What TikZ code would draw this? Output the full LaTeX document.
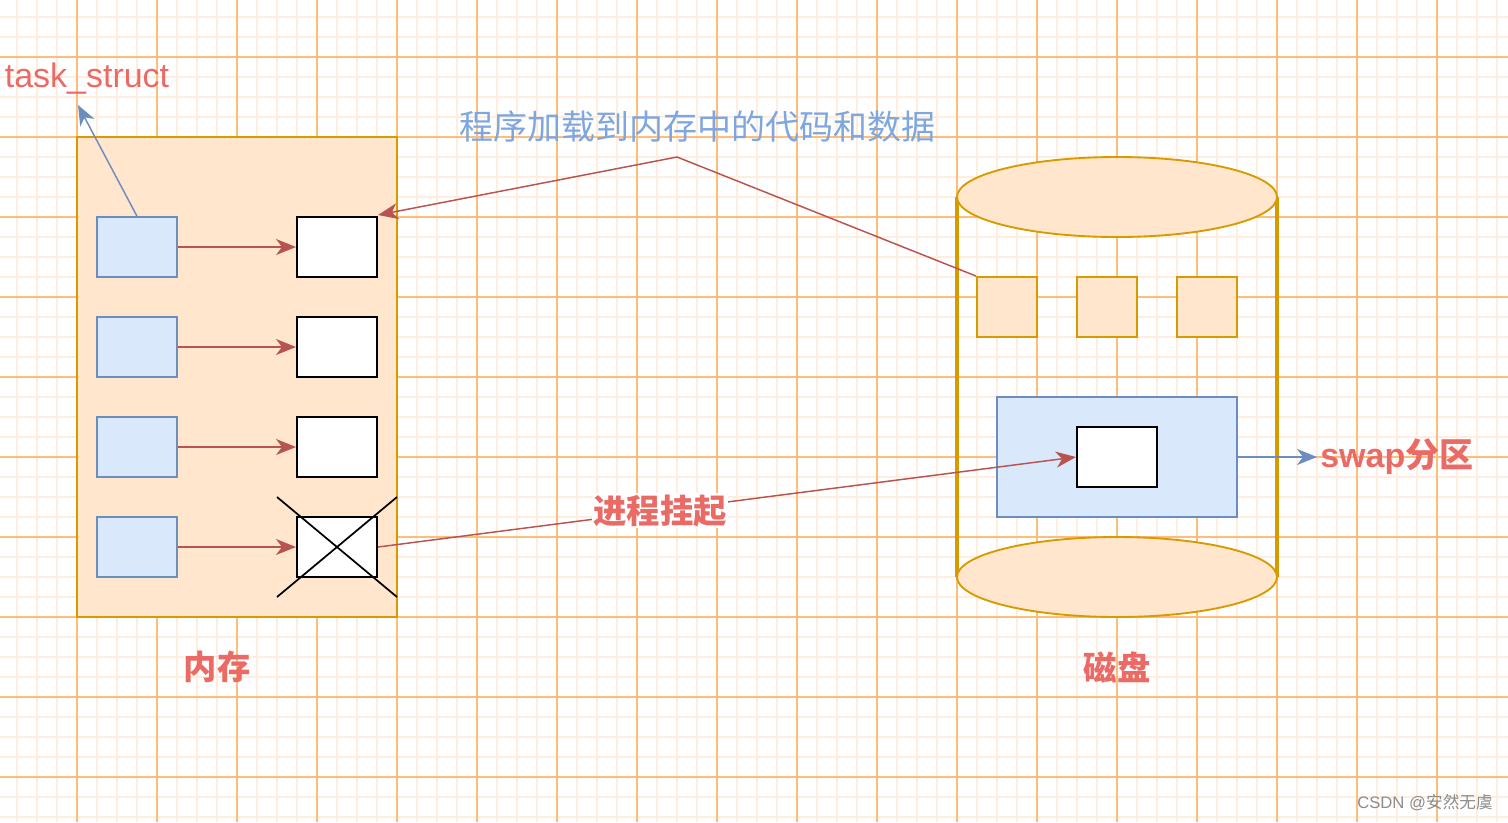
\documentclass[tikz,border=0pt]{standalone}
\usepackage{fontspec}
\setmainfont{Liberation Sans}
\newfontfamily\cjk{Noto Sans CJK SC}
\usetikzlibrary{arrows.meta,shapes.geometric}
\definecolor{memfill}{HTML}{FFE6CC}
\definecolor{memdraw}{HTML}{D79B00}
\definecolor{bluefill}{HTML}{DAE8FC}
\definecolor{bluedraw}{HTML}{6C8EBF}
\definecolor{redline}{HTML}{B85450}
\definecolor{redtext}{HTML}{EA6B66}
\definecolor{bluetext}{HTML}{7EA6E0}
\definecolor{gridmajor}{HTML}{FFBD7A}
\definecolor{gridminor}{HTML}{FFEEDD}
\tikzset{
  minorgrid/.style={gridminor,line width=0.9pt},
  majorgrid/.style={gridmajor,line width=0.8pt},
  membox/.style={draw=memdraw,fill=memfill,line width=1.4pt,rectangle,inner sep=0pt},
  bluebox/.style={draw=bluedraw,fill=bluefill,line width=1.2pt,rectangle,inner sep=0pt,minimum width=60pt,minimum height=45pt},
  whitebox/.style={draw=black,fill=white,line width=1.5pt,rectangle,inner sep=0pt,minimum width=60pt,minimum height=45pt},
  smallbox/.style={draw=memdraw,fill=memfill,line width=1.4pt,rectangle,inner sep=0pt,minimum width=45pt,minimum height=45pt},
  diskcap/.style={draw=memdraw,fill=memfill,line width=1.4pt,ellipse,inner sep=0pt,minimum width=240pt,minimum height=60pt},
  diskside/.style={draw=memdraw,line width=2.8pt},
  redarrow/.style={draw=redline,line width=1.1pt,-{Stealth[length=15pt,width=12pt,inset=4.5pt]}},
  bluearrow/.style={draw=bluedraw,line width=1.1pt,-{Stealth[length=15pt,width=12pt,inset=4.5pt]}},
  crossline/.style={draw=black,line width=1.3pt},
  bigred/.style={text=redtext,font=\cjk\bfseries\fontsize{25}{28}\selectfont,inner sep=1pt},
}
\begin{document}
\begin{tikzpicture}[x=0.75pt,y=-0.75pt]
\useasboundingbox (0,0) rectangle (1508,822);
\fill[white] (0,0) rectangle (1508,822);
% grid
\foreach \gx in {17,37,...,1508} {\draw[minorgrid] (\gx,0) -- (\gx,822);}
\foreach \gy in {17,37,...,822} {\draw[minorgrid] (0,\gy) -- (1508,\gy);}
\foreach \gx in {77,157,...,1508} {\draw[majorgrid] (\gx,0) -- (\gx,822);}
\foreach \gy in {57,137,...,822} {\draw[majorgrid] (0,\gy) -- (1508,\gy);}

% memory
\node[membox,minimum width=240pt,minimum height=360pt] (mem) at (237,377) {};
\foreach \i/\yy in {1/247,2/347,3/447,4/547} {
  \node[bluebox] (b\i) at (137,\yy) {};
  \node[whitebox] (w\i) at (337,\yy) {};
  \draw[redarrow] (b\i) -- (w\i);
}
\draw[crossline] (277,497) -- (397,597);
\draw[crossline] (277,597) -- (397,497);

% task_struct
\node[text=redtext,font=\fontsize{25.5}{28}\selectfont,inner sep=0pt] (ts) at (87,79) {task\_struct};
\coordinate (tstip) at (78,105);
\draw[bluearrow] (b1.north) -- (tstip);

% disk
\draw[diskside] (957,197) -- (957,577);
\draw[diskside] (1277,197) -- (1277,577);
\node[diskcap] (top) at (1117,197) {};
\node[diskcap] (bot) at (1117,577) {};
\node[smallbox] (s1) at (1007,307) {};
\node[smallbox] (s2) at (1107,307) {};
\node[smallbox] (s3) at (1207,307) {};
\node[bluebox,minimum width=180pt,minimum height=90pt] (swap) at (1117,457) {};
\node[whitebox] (sw) at (1117,457) {};

% load line
\node[text=bluetext,font=\cjk\fontsize{25.5}{28}\selectfont,inner sep=0pt] (loadlbl) at (697,127) {程序加载到内存中的代码和数据};
\coordinate (bend) at (677,157);
\draw[redarrow] (s1.north west) -- (bend) -- (w1.north east |- 0,215) ;

% suspend
\draw[redarrow] (w4.east) -- node[pos=0.404,fill=white,bigred] (susp) {进程挂起} (sw.west);

% swap
\coordinate (swaptip) at (1317,457);
\draw[bluearrow] (swap.east) -- (swaptip);
\node[anchor=west,text=redtext,font=\bfseries\fontsize{25.5}{28}\selectfont,inner sep=0pt] (swaplbl) at (1320,457) {swap{\cjk 分区}};

% labels
\node[bigred] (memlbl) at (217,667) {内存};
\node[bigred] (disklbl) at (1117,667) {磁盘};
\node[text=black!45,font=\fontsize{12.5}{14}\selectfont,inner sep=0pt,anchor=east] (wm) at (1493,803) {CSDN @{\cjk 安然无虞}};
\end{tikzpicture}
\end{document}
